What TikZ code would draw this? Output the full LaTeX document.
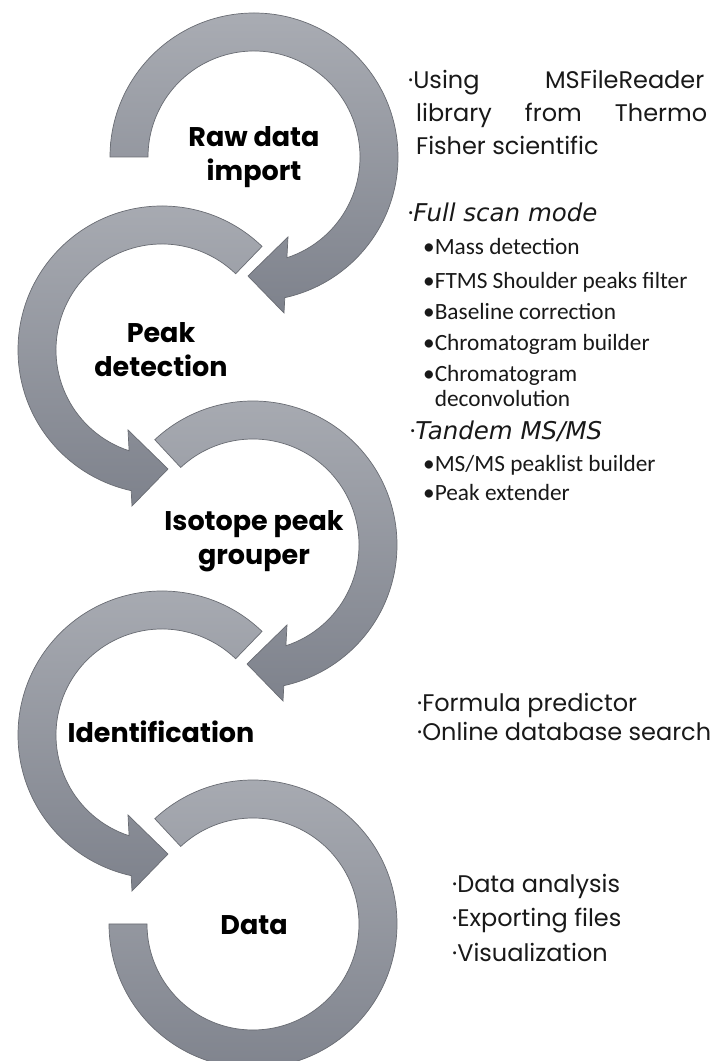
\documentclass[tikz,border=0pt]{standalone}
\usepackage{fontspec}
\setmainfont{Poppins}
\newfontfamily\calfont{Carlito}
\newfontfamily\obfont{DejaVu Sans}
\definecolor{ringtop}{HTML}{A9ACB3}
\definecolor{ringbot}{HTML}{7E828C}
\definecolor{ringedge}{HTML}{696C73}
\tikzset{
  ring/.style={draw=ringedge, line width=0.7pt, top color=ringtop, bottom color=ringbot, line join=miter},
  steplabel/.style={font=\fontsize{27}{34}\selectfont\bfseries, align=center, text=black, inner sep=0pt},
  maintext/.style={font=\fontsize{24}{30}\selectfont, anchor=base west, inner sep=0pt, text=black!90},
  subtext/.style={font=\calfont\fontsize{23.3}{27}\selectfont, anchor=base west, inner sep=0pt, text=black!90},
  modetext/.style={font=\fontsize{24.5}{28}\selectfont, anchor=base west, inner sep=0pt, text=black!90},
}
\begin{document}
\begin{tikzpicture}[x=1pt,y=1pt]
\useasboundingbox (0,0) rectangle (713,1061);
\fill[white] (0,0) rectangle (713,1061);

% Raw data import: clockwise from the left
\begin{scope}[shift={(254,904)}]
  \draw[ring] (180:144) arc[start angle=180, end angle=-77.65, radius=144]
    -- (30,-156) -- (-6,-119) -- (34,-80) -- (-71.92:106)
    arc[start angle=-71.92, end angle=180, radius=106] -- cycle;
\end{scope}
% Peak detection: counter-clockwise
\begin{scope}[shift={(162,711)}, xscale=-1]
  \draw[ring] (134:144) arc[start angle=134, end angle=-77.65, radius=144]
    -- (30,-156) -- (-6,-119) -- (34,-80) -- (-71.92:106)
    arc[start angle=-71.92, end angle=134, radius=106] -- cycle;
\end{scope}
% Isotope peak grouper: clockwise
\begin{scope}[shift={(253,516)}]
  \draw[ring] (133:144) arc[start angle=133, end angle=-77.65, radius=144]
    -- (30,-156) -- (-6,-119) -- (34,-80) -- (-71.92:106)
    arc[start angle=-71.92, end angle=133, radius=106] -- cycle;
\end{scope}
% Identification: counter-clockwise
\begin{scope}[shift={(162,326)}, xscale=-1]
  \draw[ring] (134:144) arc[start angle=134, end angle=-77.65, radius=144]
    -- (30,-156) -- (-6,-119) -- (34,-80) -- (-71.92:106)
    arc[start angle=-71.92, end angle=134, radius=106] -- cycle;
\end{scope}
% Data: open ring without head
\begin{scope}[shift={(253,137)}]
  \draw[ring] (133:144) arc[start angle=133, end angle=-180, radius=144]
    -- (-180:106) arc[start angle=-180, end angle=133, radius=106] -- cycle;
\end{scope}

% step labels
\node[steplabel] (raw) at (254,904) {Raw data\\import};
\node[steplabel] (peak) at (161,711) {Peak\\detection};
\node[steplabel] (iso) at (254,520) {Isotope peak\\grouper};
\node[steplabel] (ident) at (161,329) {Identification};
\node[steplabel] (data) at (254,136) {Data};

% notes for raw data import
\node[maintext] (n1a) at (408,972) {·\makebox[291pt][s]{Using MSFileReader}};
\node[maintext] (n1b) at (416,939) {\makebox[291pt][s]{library from Thermo}};
\node[maintext] (n1c) at (416,906) {Fisher scientific};

% notes for peak detection
\node[modetext] (m1) at (408,839) {·{\obfont\itshape Full scan mode}};
\node[subtext] (s1) at (423,806) {•Mass detection};
\node[subtext] (s2) at (423,772) {•FTMS Shoulder peaks filter};
\node[subtext] (s3) at (423,741) {•Baseline correction};
\node[subtext] (s4) at (423,710) {•Chromatogram builder};
\node[subtext] (s5) at (423,679) {•Chromatogram};
\node[subtext] (s6) at (423,654) {\phantom{•}deconvolution};
\node[modetext] (m2) at (410,621) {·{\obfont\itshape Tandem MS/MS}};
\node[subtext] (s7) at (423,589) {•MS/MS peaklist builder};
\node[subtext] (s8) at (423,560) {•Peak extender};

% notes for identification
\node[maintext] (f1) at (417,349) {·Formula predictor};
\node[maintext] (f2) at (417,320) {·Online database search};

% notes for data
\node[maintext] (d1) at (452,168) {·Data analysis};
\node[maintext] (d2) at (452,134) {·Exporting files};
\node[maintext] (d3) at (452,99) {·Visualization};
\end{tikzpicture}
\end{document}
